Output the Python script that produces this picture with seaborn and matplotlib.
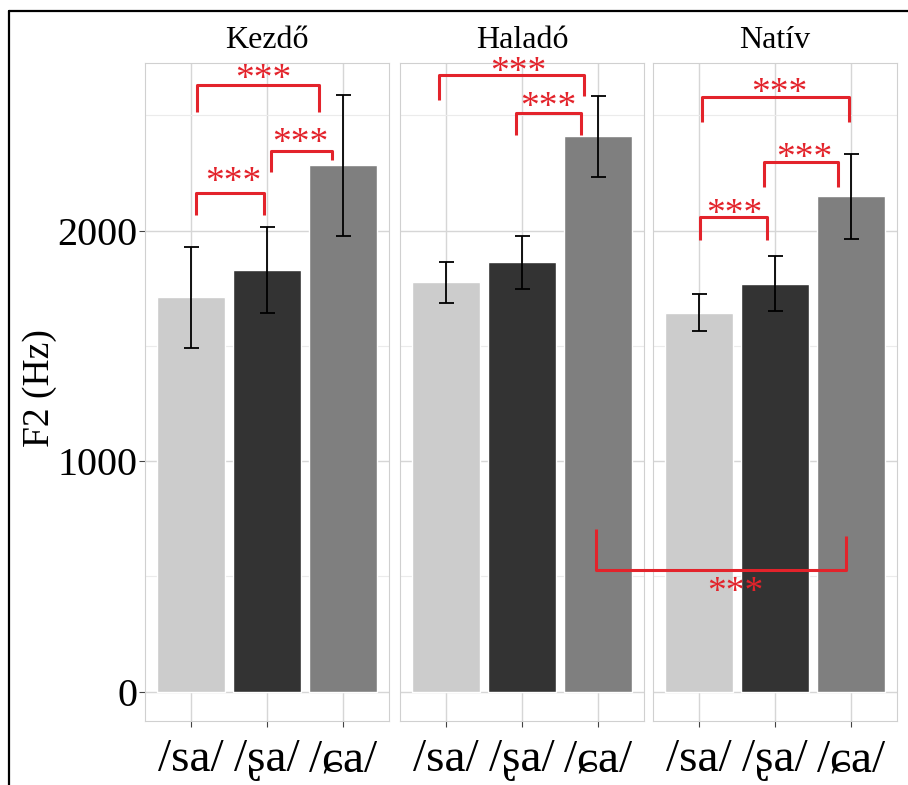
import numpy as np
import pandas as pd
import matplotlib
matplotlib.use("Agg")
import matplotlib.pyplot as plt
from matplotlib.lines import Line2D
from matplotlib.ticker import FixedLocator
from matplotlib.transforms import offset_copy
import seaborn as sns

# ---- data -----------------------------------------------------------------
groups = ["Kezdő", "Haladó", "Natív"]
sounds = ["/sa/", "/ʂa/", "/ɕa/"]

kezdo_mean = [1710, 1830, 2284]
kezdo_err = [219, 186, 306]
halado_mean = [1776, 1862, 2409]
halado_err = [89, 115, 175]
nativ_mean = [1644, 1770, 2148]
nativ_err = [81, 120, 185]

bar_colors = ["#cccccc", "#333333", "#7f7f7f"]
sig_color = "#e3232b"

# significance brackets: (panel, x_left, x_right, y_line, y_left_end, y_right_end, star_x, star_y)
brackets = [
    (0, 0.08, 1.68, 2630, 2514, 2514, 0.95, 2680),
    (0, 0.07, 0.96, 2161, 2067, 2067, 0.56, 2233),
    (0, 1.05, 1.85, 2344, 2254, 2308, 1.44, 2405),
    (1, -0.09, 1.82, 2676, 2568, 2582, 0.95, 2712),
    (1, 0.92, 1.78, 2509, 2416, 2416, 1.34, 2558),
    (2, 0.04, 1.97, 2579, 2470, 2470, 1.06, 2618),
    (2, 0.01, 0.89, 2058, 1959, 1959, 0.46, 2096),
    (2, 0.86, 1.83, 2298, 2188, 2188, 1.39, 2337),
    (2, -1.35, 1.94, 526, 706, 673, 0.48, 454),
]

df = pd.DataFrame({
    "group": np.repeat(groups, len(sounds)),
    "sound": sounds * len(groups),
    "f2": kezdo_mean + halado_mean + nativ_mean,
    "se": kezdo_err + halado_err + nativ_err,
})

# ---- style ----------------------------------------------------------------
sns.set_theme(style="white")
plt.rcParams["font.family"] = ["Liberation Serif", "DejaVu Serif"]
plt.rcParams["text.color"] = "black"
plt.rcParams["xtick.color"] = "black"
plt.rcParams["ytick.color"] = "black"

W, H = 908, 785
fig = plt.figure(figsize=(W / 100, H / 100), dpi=100)
fig.patch.set_facecolor("white")

panel_left = [145.4, 400.4, 653.4]
panel_w = 243.2
panel_top, panel_bottom = 62.5, 720.5
ylim = (-125.8, 2729)

axes = []
for i, g in enumerate(groups):
    ax = fig.add_axes([panel_left[i] / W, (H - panel_bottom) / H,
                       panel_w / W, (panel_bottom - panel_top) / H])
    sub = df[df["group"] == g]
    sns.barplot(data=sub, x="sound", y="f2", hue="sound", order=sounds,
                hue_order=sounds, palette=bar_colors, width=0.9,
                errorbar=None, legend=False, saturation=1, ax=ax)
    ax.errorbar(np.arange(3), sub["f2"].values, yerr=sub["se"].values,
                fmt="none", ecolor="black", elinewidth=1.3,
                capsize=5.4, capthick=1.3, zorder=5)
    ax.set_xlim(-0.6, 2.6)
    ax.set_ylim(*ylim)
    ax.set_axisbelow(True)
    ax.yaxis.set_major_locator(FixedLocator([0, 1000, 2000]))
    ax.yaxis.set_minor_locator(FixedLocator([500, 1500, 2500]))
    ax.grid(True, which="major", color="#d6d6d6", linewidth=1.0)
    ax.grid(True, which="minor", axis="y", color="#ebebeb", linewidth=0.8)
    for s in ax.spines.values():
        s.set_color("#d0d0d0")
        s.set_linewidth(0.8)
    ax.set_xlabel("")
    ax.set_ylabel("")
    ax.set_xticks(range(3))
    ax.set_xticklabels(sounds, fontsize=34, color="black")
    ax.tick_params(axis="x", which="major", bottom=True, length=4,
                   width=0.8, color="#444444", pad=9)
    ax.tick_params(axis="y", which="minor", left=False)
    if i == 0:
        ax.tick_params(axis="y", which="major", left=True, length=4,
                       width=0.8, color="#444444", labelsize=29, pad=2)
        ax.set_yticklabels(["0", "1000", "2000"], color="black")
    else:
        ax.tick_params(axis="y", which="major", left=False, labelleft=False)
    ax.text(0.5, 1 + (panel_top - 40) / (panel_bottom - panel_top), g,
            transform=ax.transAxes, ha="center", va="center", fontsize=23,
            color="black")
    axes.append(ax)

# significance brackets
star_size = 27
for p, x1, x2, yl, y1, y2, sx, sy in brackets:
    ax = axes[p]
    ax.plot([x1, x1, x2, x2], [y1, yl, yl, y2], color=sig_color,
            linewidth=2.2, solid_capstyle="butt", clip_on=False, zorder=6)
    star_tr = offset_copy(ax.transData, fig=fig, y=-0.41 * star_size,
                          units="points")
    ax.text(sx, sy, "***", color=sig_color, fontsize=star_size,
            ha="center", va="baseline", transform=star_tr, clip_on=False,
            zorder=6)

fig.text(40 / W, 1 - 388 / H, "F2 (Hz)", rotation=90, ha="center",
         va="center", fontsize=27, color="black")

# frame lines along the left and top edges
fig.add_artist(Line2D([9 / W, 9 / W], [0, 1 - 11 / H], color="black",
                      linewidth=1.6, transform=fig.transFigure))
fig.add_artist(Line2D([9 / W, 1], [1 - 11 / H, 1 - 11 / H], color="black",
                      linewidth=1.6, transform=fig.transFigure))

fig.savefig("out.png", dpi=100, facecolor="white")
